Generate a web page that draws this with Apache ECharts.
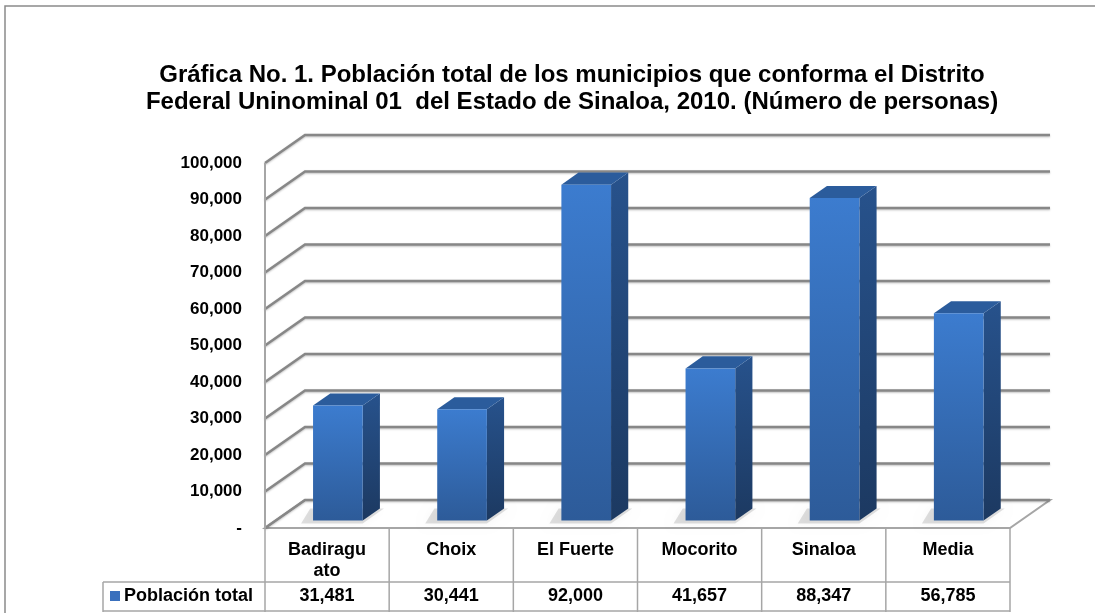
<!DOCTYPE html>
<html>
<head>
<meta charset="utf-8">
<script src="https://cdn.jsdelivr.net/npm/echarts@6/dist/echarts.min.js"></script>
<style>
  html, body { margin: 0; padding: 0; background: #fff; }
  #chart { width: 1095px; height: 613px; }
</style>
</head>
<body>
<div id="chart"></div>
<script>
// datos
const municipios = ['Badiraguato', 'Choix', 'El Fuerte', 'Mocorito', 'Sinaloa', 'Media'];
const poblacion = [31481, 30441, 92000, 41657, 88347, 56785];
const serieNombre = 'Población total';
const yMin = 0;
const yMax = 100000;
const yPaso = 10000;
const titulo = 'Gráfica No. 1. Población total de los municipios que conforma el Distrito\nFederal Uninominal 01  del Estado de Sinaloa, 2010. (Número de personas)';

const FONT = 'Liberation Sans, Arial, sans-serif';
// desplazamiento de la pared del fondo (efecto 3d)
const DX = 40, DY = -28;
const D0 = 0.27, D1 = 0.70;

const fmt = v => v === 0 ? '-' : v.toLocaleString('en-US');

const yTicks = [];
for (let v = yMin; v <= yMax; v += yPaso) yTicks.push(v);

const chart = echarts.init(document.getElementById('chart'));

function renderFrame(params, api) {
  const band = api.size([1, 0])[0];
  const x0 = api.coord([0, 0])[0] - band / 2;
  const x1 = api.coord([municipios.length - 1, 0])[0] + band / 2;
  const yb = api.coord([0, yMin])[1];
  const yt = api.coord([0, yMax])[1];
  const children = [];
  const lineStyle = { stroke: '#878787', lineWidth: 2.5, fill: null, shadowBlur: 2, shadowColor: 'rgba(0,0,0,0.25)', shadowOffsetY: 1 };
  // piso
  children.push({
    type: 'polygon',
    shape: { points: [[x0, yb], [x1, yb], [x1 + DX, yb + DY], [x0 + DX, yb + DY]] },
    style: { fill: '#fff', stroke: '#a6a6a6', lineWidth: 2 }
  });
  // lineas de division
  yTicks.forEach(v => {
    const y = api.coord([0, v])[1];
    children.push({
      type: 'polyline',
      shape: { points: [[x0, y], [x0 + DX, y + DY], [x1 + DX, y + DY]] },
      style: lineStyle
    });
  });
  // borde frontal de la pared izquierda
  children.push({
    type: 'line',
    shape: { x1: x0, y1: yt, x2: x0, y2: yb },
    style: { stroke: '#a6a6a6', lineWidth: 2 }
  });
  return { type: 'group', children: children };
}

function renderBar(params, api) {
  const i = api.value(0);
  const v = api.value(1);
  const c = api.coord([i, v]);
  const b = api.coord([i, 0]);
  const band = api.size([1, 0])[0];
  const w = band * 0.4;
  const fx0 = c[0] - w / 2 + DX * D0;
  const fx1 = fx0 + w;
  const ft = c[1] + DY * D0;
  const fb = b[1] + DY * D0;
  const sx = DX * (D1 - D0), sy = DY * (D1 - D0);
  return {
    type: 'group',
    children: [
      {
        type: 'polygon',
        shape: { points: [[fx0 - 12, fb + 3], [fx1, fb + 3], [fx1 + sx + 4, fb + sy], [fx0 + sx - 20, fb + sy]] },
        style: { fill: 'rgba(0,0,0,0.12)', shadowBlur: 10, shadowColor: 'rgba(0,0,0,0.3)' }
      },
      {
        type: 'polygon',
        shape: { points: [[fx1, ft], [fx1 + sx, ft + sy], [fx1 + sx, fb + sy], [fx1, fb]] },
        style: { fill: new echarts.graphic.LinearGradient(0, 0, 0, 1, [
          { offset: 0, color: '#27528c' }, { offset: 1, color: '#1c3961' }]) }
      },
      {
        type: 'polygon',
        shape: { points: [[fx0, ft], [fx0 + sx, ft + sy], [fx1 + sx, ft + sy], [fx1, ft]] },
        style: { fill: '#2b5c9c' }
      },
      {
        type: 'rect',
        shape: { x: fx0, y: ft, width: w, height: fb - ft },
        style: { fill: new echarts.graphic.LinearGradient(0, 0, 0, 1, [
          { offset: 0, color: '#3c7ccf' }, { offset: 1, color: '#2d5b99' }]) }
      }
    ]
  };
}

function renderTable(params, api) {
  const band = api.size([1, 0])[0];
  const x0 = api.coord([0, 0])[0] - band / 2;
  const x1 = api.coord([municipios.length - 1, 0])[0] + band / 2;
  const yb = api.coord([0, yMin])[1];
  const rowY = yb + 54;
  const endY = yb + 84;
  const xl = x0 - 162;
  const st = { stroke: '#a6a6a6', lineWidth: 1.5 };
  const children = [];
  for (let k = 0; k <= municipios.length; k++) {
    const x = x0 + k * band;
    children.push({ type: 'line', shape: { x1: x, y1: yb, x2: x, y2: endY }, style: st });
  }
  children.push({ type: 'line', shape: { x1: xl, y1: rowY, x2: x1, y2: rowY }, style: st });
  children.push({ type: 'line', shape: { x1: xl, y1: rowY, x2: xl, y2: endY }, style: st });
  children.push({ type: 'line', shape: { x1: xl, y1: endY - 1, x2: x1, y2: endY - 1 }, style: st });
  children.push({ type: 'rect', shape: { x: xl + 7, y: rowY + 9, width: 10, height: 10 }, style: { fill: '#3a70bd' } });
  children.push({
    type: 'text',
    style: { x: xl + 21, y: rowY + 14, text: serieNombre, fill: '#000', font: 'bold 18px ' + FONT, verticalAlign: 'middle' }
  });
  return { type: 'group', children: children };
}

const option = {
  backgroundColor: '#fff',
  animation: false,
  graphic: [
    { type: 'polyline', shape: { points: [[5, 613], [5, 6], [1095, 6]] }, style: { stroke: '#8a8a8a', lineWidth: 1.5, fill: null } },
    {
      type: 'text', x: 572, y: 62,
      style: { text: titulo, fill: '#000', font: 'bold 24px ' + FONT, textAlign: 'center', lineHeight: 27 }
    }
  ],
  grid: { left: 265, right: 85, top: 163, bottom: 85 },
  xAxis: [
    {
      type: 'category',
      data: municipios,
      axisLine: { show: false },
      axisTick: { show: false },
      axisLabel: {
        interval: 0, margin: 12, color: '#000', fontWeight: 'bold', fontSize: 18, fontFamily: FONT,
        lineHeight: 21, width: 84, overflow: 'breakAll'
      }
    },
    {
      type: 'category',
      position: 'bottom',
      data: poblacion.map(fmt),
      axisLine: { show: false },
      axisTick: { show: false },
      axisLabel: { interval: 0, margin: 58, color: '#000', fontWeight: 'bold', fontSize: 18, fontFamily: FONT, lineHeight: 21 }
    }
  ],
  yAxis: {
    type: 'value',
    min: yMin,
    max: yMax,
    interval: yPaso,
    axisLine: { show: false },
    axisTick: { show: false },
    splitLine: { show: false },
    axisLabel: { margin: 23, color: '#000', fontWeight: 'bold', fontSize: 17, fontFamily: FONT, formatter: fmt }
  },
  series: [
    { type: 'custom', name: 'marco', clip: false, z: 1, renderItem: renderFrame, data: [[0, 0]] },
    { type: 'custom', name: serieNombre, clip: false, z: 3, renderItem: renderBar,
      data: poblacion.map((v, i) => [i, v]) },
    { type: 'custom', name: 'tabla', clip: false, z: 2, renderItem: renderTable, data: [[0, 0]] }
  ]
};

chart.setOption(option);
</script>
</body>
</html>
